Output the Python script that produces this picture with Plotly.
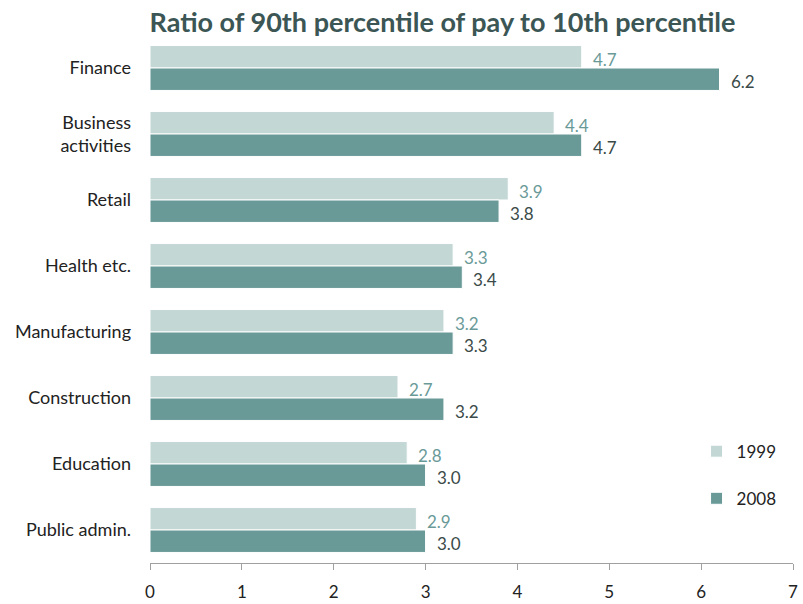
import plotly.graph_objects as go

categories = ["Finance", "Business<br>activities", "Retail", "Health etc.", "Manufacturing",
              "Construction", "Education", "Public admin."]
values_1999 = [4.7, 4.4, 3.9, 3.3, 3.2, 2.7, 2.8, 2.9]
values_2008 = [6.2, 4.7, 3.8, 3.4, 3.3, 3.2, 3.0, 3.0]
labels_1999 = ["4.7", "4.4", "3.9", "3.3", "3.2", "2.7", "2.8", "2.9"]
labels_2008 = ["6.2", "4.7", "3.8", "3.4", "3.3", "3.2", "3.0", "3.0"]
x_ticks = [0, 1, 2, 3, 4, 5, 6, 7]

c1999 = "#c3d7d5"
c2008 = "#699a98"
font = "Lato, Open Sans, sans-serif"

fig = go.Figure()
fig.add_trace(go.Bar(y=categories, x=values_1999, orientation="h", name="1999",
                     marker=dict(color=c1999, line=dict(color="white", width=1)),
                     legendgroup="a"))
fig.add_trace(go.Bar(y=categories, x=values_2008, orientation="h", name="2008",
                     marker=dict(color=c2008, line=dict(color="white", width=1)),
                     legendgroup="b"))

annotations = []
for cat, v, t in zip(categories, values_1999, labels_1999):
    annotations.append(dict(x=v, y=cat, text=t, showarrow=False, xanchor="left",
                            xshift=9, yshift=9, font=dict(size=17, color="#6a9a98", family=font)))
for cat, v, t in zip(categories, values_2008, labels_2008):
    annotations.append(dict(x=v, y=cat, text=t, showarrow=False, xanchor="left",
                            xshift=9, yshift=-13, font=dict(size=17, color="#3a4a48", family=font)))

fig.update_layout(
    width=803, height=604,
    margin=dict(l=150, r=10, t=35, b=41),
    paper_bgcolor="white", plot_bgcolor="white",
    barmode="group", bargap=0.32, bargroupgap=0,
    title=dict(text="<b>Ratio of 90th percentile of pay to 10th percentile</b>",
               x=0.551, xanchor="center", y=0.962, yanchor="middle",
               font=dict(size=27, color="#3b5654", family=font)),
    font=dict(family=font, size=17, color="#222222"),
    xaxis=dict(range=[0, 7], tickvals=x_ticks, ticks="outside", ticklen=6,
               tickcolor="#a0a0a0", showline=True, linecolor="#a0a0a0", linewidth=1,
               showgrid=False, zeroline=False, ticklabelstandoff=8, automargin=False,
               tickfont=dict(size=17, color="#222222")),
    yaxis=dict(autorange="reversed", showgrid=False, showline=False, ticks="",
               ticklabelstandoff=18, automargin=False, tickfont=dict(size=18, color="#222222")),
    legend=dict(x=0.85, y=0.245, xanchor="left", yanchor="top", tracegroupgap=22,
                font=dict(size=17, color="#222222"), bgcolor="rgba(0,0,0,0)"),
    annotations=annotations,
)

fig.write_html("out.html")
